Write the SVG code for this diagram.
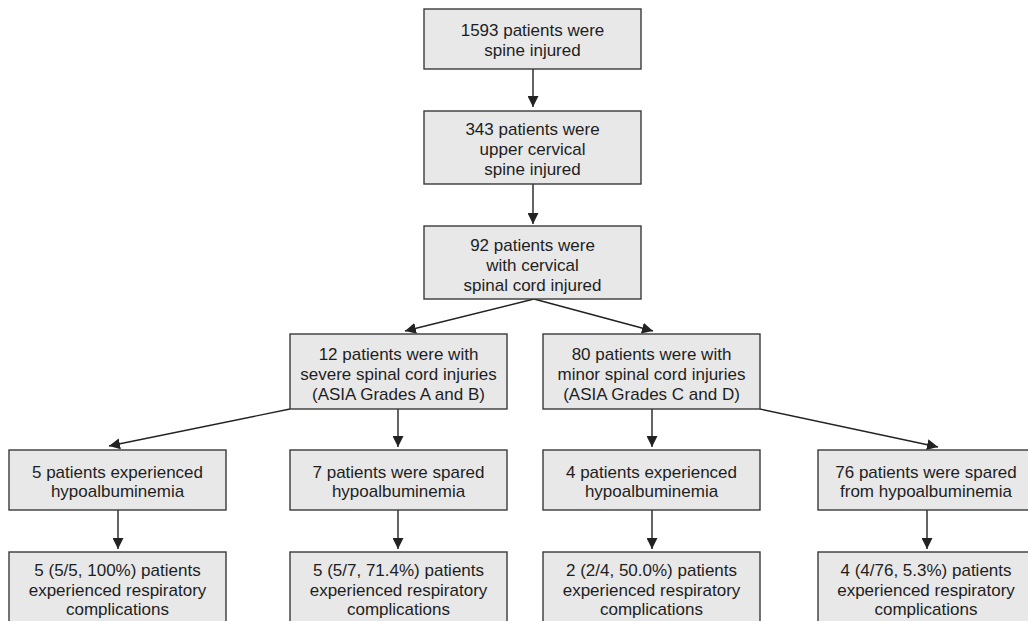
<svg xmlns="http://www.w3.org/2000/svg" width="1028" height="621" viewBox="0 0 1028 621">
<defs>
<style>
.box{fill:#e8e8e8;stroke:#3a3a3a;stroke-width:1.4}
.t{font-family:"Liberation Sans",Arial,sans-serif;font-size:17px;fill:#1e1e1e;text-anchor:middle}
.c{stroke:#222;stroke-width:1.4;fill:none;marker-end:url(#ah)}
</style>
<marker id="ah" markerUnits="userSpaceOnUse" markerWidth="11" markerHeight="11" refX="11" refY="5.5" orient="auto">
<path d="M0,0 L11,5.5 L0,11 z" fill="#222"/>
</marker>
</defs>
<rect width="1028" height="621" fill="#fff"/>
<g id="connectors">
<line class="c" x1="533" y1="69" x2="533" y2="107"/>
<line class="c" x1="533" y1="184" x2="533" y2="224"/>
<line class="c" x1="534" y1="299" x2="405" y2="331"/>
<line class="c" x1="534" y1="299" x2="653" y2="331"/>
<line class="c" x1="290" y1="409" x2="109" y2="446"/>
<line class="c" x1="398" y1="409" x2="398" y2="447"/>
<line class="c" x1="760" y1="409" x2="938" y2="447"/>
<line class="c" x1="652" y1="409" x2="652" y2="447"/>
<line class="c" x1="118" y1="510" x2="118" y2="549"/>
<line class="c" x1="398" y1="510" x2="398" y2="549"/>
<line class="c" x1="652" y1="510" x2="652" y2="549"/>
<line class="c" x1="927" y1="510" x2="927" y2="549"/>
</g>
<g id="n1"><rect class="box" x="424" y="9" width="217" height="60"/>
<text class="t" x="532.5" y="36">1593 patients were</text><text class="t" x="532.5" y="56">spine injured</text></g>
<g id="n2"><rect class="box" x="424" y="111" width="217" height="73"/>
<text class="t" x="532.5" y="135">343 patients were</text><text class="t" x="532.5" y="155">upper cervical</text><text class="t" x="532.5" y="175">spine injured</text></g>
<g id="n3"><rect class="box" x="424" y="226" width="217" height="73"/>
<text class="t" x="532.5" y="251">92 patients were</text><text class="t" x="532.5" y="271">with cervical</text><text class="t" x="532.5" y="291">spinal cord injured</text></g>
<g id="n4"><rect class="box" x="290" y="334" width="217" height="75"/>
<text class="t" x="398.5" y="360">12 patients were with</text><text class="t" x="398.5" y="380">severe spinal cord injuries</text><text class="t" x="398.5" y="400">(ASIA Grades A and B)</text></g>
<g id="n5"><rect class="box" x="543" y="334" width="217" height="75"/>
<text class="t" x="651.5" y="360">80 patients were with</text><text class="t" x="651.5" y="380">minor spinal cord injuries</text><text class="t" x="651.5" y="400">(ASIA Grades C and D)</text></g>
<g id="n6"><rect class="box" x="9" y="450" width="217" height="60"/>
<text class="t" x="117.5" y="478">5 patients experienced</text><text class="t" x="117.5" y="497">hypoalbuminemia</text></g>
<g id="n7"><rect class="box" x="290" y="450" width="217" height="60"/>
<text class="t" x="398.5" y="478">7 patients were spared</text><text class="t" x="398.5" y="497">hypoalbuminemia</text></g>
<g id="n8"><rect class="box" x="543" y="450" width="217" height="60"/>
<text class="t" x="651.5" y="478">4 patients experienced</text><text class="t" x="651.5" y="497">hypoalbuminemia</text></g>
<g id="n9"><rect class="box" x="818" y="450" width="220" height="60"/>
<text class="t" x="926" y="478">76 patients were spared</text><text class="t" x="926" y="497">from hypoalbuminemia</text></g>
<g id="n10"><rect class="box" x="9" y="552" width="217" height="80"/>
<text class="t" x="117.5" y="576">5 (5/5, 100%) patients</text><text class="t" x="117.5" y="596">experienced respiratory</text><text class="t" x="117.5" y="615">complications</text></g>
<g id="n11"><rect class="box" x="290" y="552" width="217" height="80"/>
<text class="t" x="398.5" y="576">5 (5/7, 71.4%) patients</text><text class="t" x="398.5" y="596">experienced respiratory</text><text class="t" x="398.5" y="615">complications</text></g>
<g id="n12"><rect class="box" x="543" y="552" width="217" height="80"/>
<text class="t" x="651.5" y="576">2 (2/4, 50.0%) patients</text><text class="t" x="651.5" y="596">experienced respiratory</text><text class="t" x="651.5" y="615">complications</text></g>
<g id="n13"><rect class="box" x="818" y="552" width="220" height="80"/>
<text class="t" x="926" y="576">4 (4/76, 5.3%) patients</text><text class="t" x="926" y="596">experienced respiratory</text><text class="t" x="926" y="615">complications</text></g>
</svg>
